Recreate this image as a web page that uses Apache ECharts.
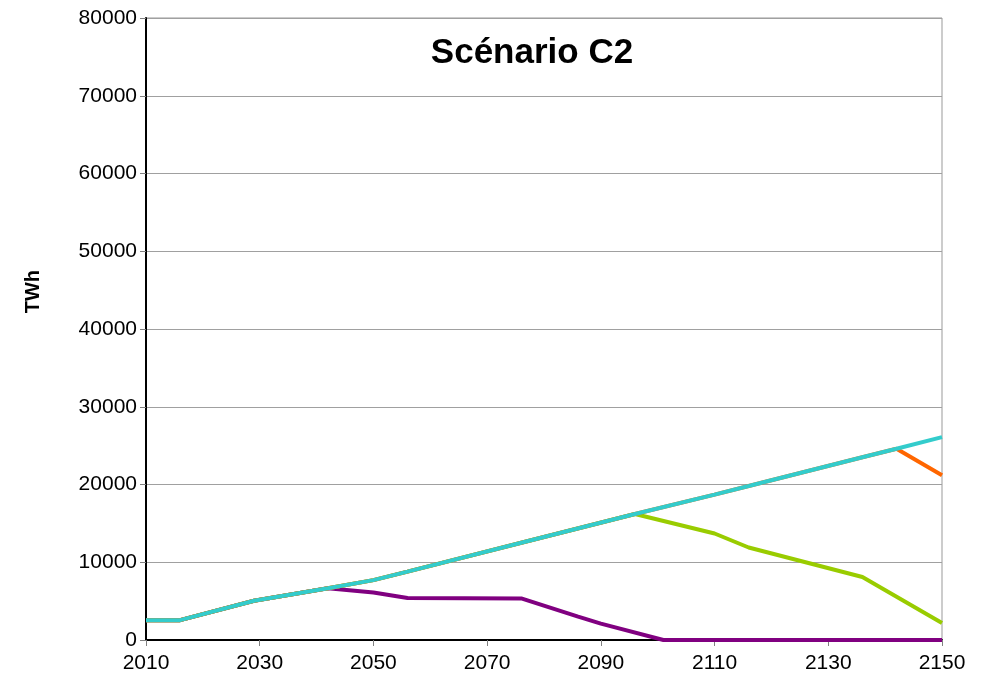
<!DOCTYPE html>
<html>
<head>
<meta charset="utf-8">
<script src="https://cdn.jsdelivr.net/npm/echarts@6/dist/echarts.min.js"></script>
<style>
  html, body { margin: 0; padding: 0; background: #fff; }
  #main { width: 987px; height: 682px; }
</style>
</head>
<body>
<div id="main"></div>
<script>
  // years and values (vertices of each line)
  var cyanYears   = [2010, 2016, 2029, 2042, 2050, 2056, 2076, 2096, 2110, 2116, 2136, 2142, 2150];
  var cyanValues  = [2550, 2550, 5050, 6650, 7700, 8800, 12500, 16200, 18700, 19800, 23500, 24600, 26100];

  var orangeYears  = [2010, 2016, 2029, 2042, 2050, 2056, 2076, 2096, 2110, 2116, 2136, 2142, 2150];
  var orangeValues = [2550, 2550, 5050, 6650, 7700, 8800, 12500, 16200, 18700, 19800, 23500, 24600, 21200];

  var greenYears  = [2010, 2016, 2029, 2042, 2050, 2056, 2076, 2096, 2110, 2116, 2136, 2150];
  var greenValues = [2550, 2550, 5050, 6650, 7700, 8800, 12500, 16200, 13700, 11900, 8100, 2200];

  var purpleYears  = [2010, 2016, 2029, 2042, 2050, 2056, 2076, 2086, 2090, 2101, 2150];
  var purpleValues = [2550, 2550, 5050, 6650, 6100, 5400, 5350, 3000, 2100, 0, 0];

  function pairs(xs, ys) {
    var out = [];
    for (var i = 0; i < xs.length; i++) out.push([xs[i], ys[i]]);
    return out;
  }

  var chart = echarts.init(document.getElementById('main'));
  var font = 'Liberation Sans, Arial, sans-serif';

  function line(name, color, data, z) {
    return {
      name: name,
      type: 'line',
      data: data,
      symbol: 'none',
      z: z,
      lineStyle: { color: color, width: 4 },
      animation: false
    };
  }

  chart.setOption({
    backgroundColor: '#fff',
    animation: false,
    title: {
      text: 'Scénario C2',
      left: 527,
      top: 31,
      textAlign: 'center',
      textStyle: { fontFamily: font, fontSize: 35, fontWeight: 'bold', color: '#000' }
    },
    graphic: [{
      type: 'text',
      left: 23,
      top: 270,
      rotation: Math.PI / 2,
      style: { text: 'TWh', font: 'bold 20px Liberation Sans, Arial, sans-serif', fill: '#000' }
    }],
    grid: {
      left: 146, right: 45, top: 18, bottom: 42,
      show: true, borderColor: '#999', borderWidth: 1, backgroundColor: 'transparent'
    },
    xAxis: {
      type: 'value',
      min: 2010, max: 2150, interval: 20,
      axisLine: { show: true, lineStyle: { color: '#000', width: 2 } },
      axisTick: { show: true, length: 6, lineStyle: { color: '#808080' } },
      axisLabel: { fontFamily: font, fontSize: 21, color: '#000', margin: 13, formatter: function (v) { return String(v); } },
      splitLine: { show: false }
    },
    yAxis: {
      type: 'value',
      min: 0, max: 80000, interval: 10000,
      axisLine: { show: true, lineStyle: { color: '#000', width: 2 } },
      axisTick: { show: true, length: 6, lineStyle: { color: '#808080' } },
      axisLabel: { fontFamily: font, fontSize: 21, color: '#000', margin: 9, formatter: function (v) { return String(v); } },
      splitLine: { show: true, lineStyle: { color: '#a0a0a0', width: 1 } }
    },
    series: [
      line('purple', '#800080', pairs(purpleYears, purpleValues), 2),
      line('green', '#99cc00', pairs(greenYears, greenValues), 3),
      line('orange', '#ff6600', pairs(orangeYears, orangeValues), 4),
      line('cyan', '#33cccc', pairs(cyanYears, cyanValues), 5)
    ]
  });
</script>
</body>
</html>
